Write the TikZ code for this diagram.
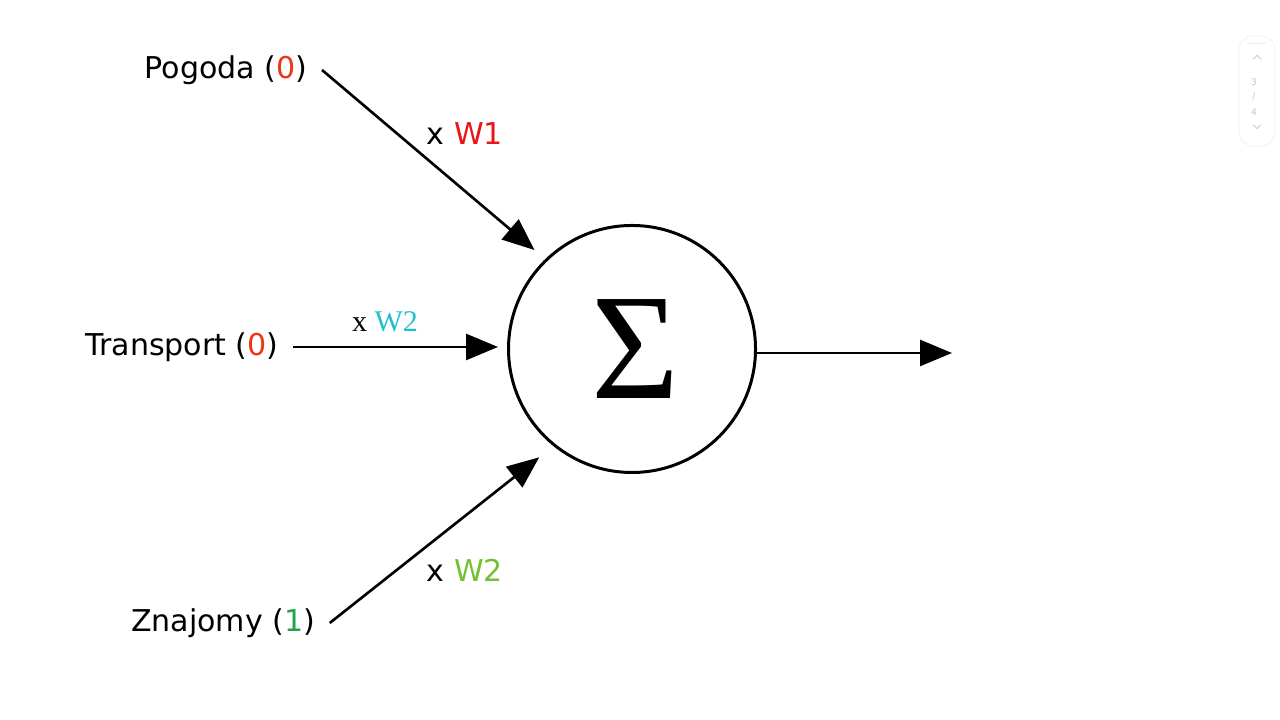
\documentclass[tikz,border=0pt]{standalone}
\usepackage{fontspec}
\setmainfont{DejaVu Sans}
\newfontfamily\serifface{Liberation Serif}
\usepackage{xcolor}
\usetikzlibrary{arrows.meta, positioning}
\definecolor{zerored}{RGB}{236,54,22}
\definecolor{wonered}{RGB}{232,20,24}
\definecolor{wtwocyan}{RGB}{34,192,204}
\definecolor{wtwolime}{RGB}{118,190,52}
\definecolor{onegreen}{RGB}{36,162,78}
\tikzset{
  inputlabel/.style={
    font=\fontsize{8.55}{10}\selectfont, inner xsep=4pt
  },
  weightlabel/.style={
    font=\fontsize{8.55}{10}\selectfont, inner sep=1pt
  },
  sumnode/.style={
    draw, circle, line width=0.85pt, minimum size=2.47cm, inner sep=0pt
  },
  sigarrow/.style={
    -{Triangle[length=3.2mm, width=2.6mm]}, line width=0.75pt
  },
  pagetext/.style={
    font=\fontsize{2.6}{3}\selectfont, text=gray!45, inner sep=0pt
  },
}
\begin{document}
\begin{tikzpicture}
  \useasboundingbox (0,0) rectangle (12.8,7.2);

  % summing unit
  \node[sumnode] (sum) at (6.32,3.71)
    {\fontsize{43}{43}\selectfont\serifface\hspace{0.06cm}Σ};

  % inputs
  \node[inputlabel] (pogoda) at (2.26,6.50)
    {Pogoda (\textcolor{zerored}{0})};
  \node[inputlabel] (transport) at (1.82,3.73)
    {Transport (\textcolor{zerored}{0})};
  \node[inputlabel] (znajomy) at (2.23,0.97)
    {Znajomy (\textcolor{onegreen}{1})};

  % weights
  \node[weightlabel] (wone) at (4.65,5.86) {x \textcolor{wonered}{W1}};
  \node[weightlabel] (wtwo) at (3.85,3.98)
    {\serifface x \textcolor{wtwocyan}{W2}};
  \node[weightlabel] (wthree) at (4.65,1.50) {x \textcolor{wtwolime}{W2}};

  % connections
  \draw[sigarrow, shorten >=0.14cm] (pogoda.east) -- (sum.134);
  \draw[sigarrow, shorten >=0.09cm] (transport.east) -- (transport.east -| sum.west);
  \draw[sigarrow, shorten >=0.18cm] (znajomy.east) -- (sum.231);

  % output
  \coordinate (out) at (9.52,3.67);
  \draw[sigarrow] (sum.east |- out) -- (out);

  % page indicator
  \node[draw=gray!7, rounded corners=4pt, minimum width=0.36cm,
    minimum height=1.1cm, inner sep=0pt] (scrollbar) at (12.57,6.29) {};
  \draw[gray!15, line width=0.4pt] (scrollbar.north) ++(-0.1,-0.08) -- ++(0.2,0);
  \draw[gray!35, line width=0.3pt] (scrollbar.north) ++(-0.04,-0.24) -- ++(0.04,0.04) -- ++(0.04,-0.04);
  \node[pagetext] (pagenum) at (12.54,6.38) {3};
  \node[pagetext] (pagesep) at (12.54,6.23) {/};
  \node[pagetext] (pagetotal) at (12.54,6.08) {4};
  \draw[gray!35, line width=0.3pt] (scrollbar.south) ++(-0.04,0.22) -- ++(0.04,-0.04) -- ++(0.04,0.04);
\end{tikzpicture}
\end{document}
